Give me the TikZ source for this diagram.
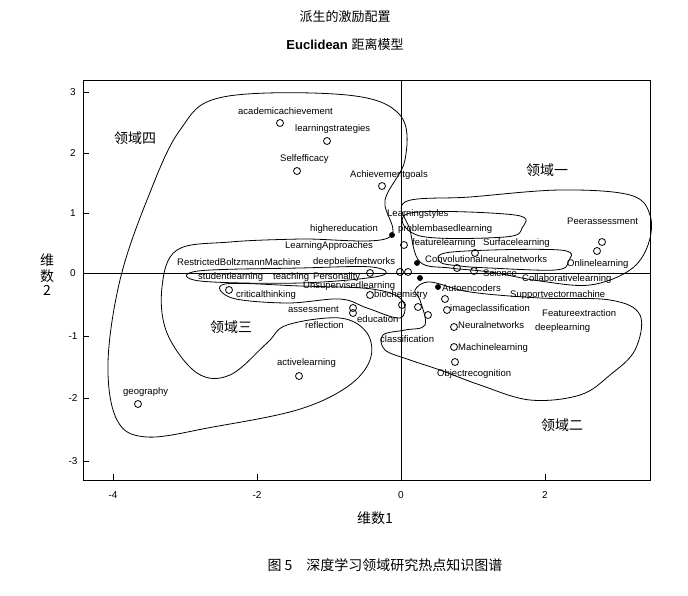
\documentclass[tikz,border=0pt]{standalone}
\usepackage{fontspec}
\setmainfont{Liberation Sans}
\newfontfamily\cjk{Noto Sans CJK SC}
\tikzset{
    pt/.style={
        circle,
        draw,
        thick, % 散点
        minimum size=7pt,
        inner sep=0
    },
    fpt/.style={
        pt,
        fill=black
    },
    lbl/.style={
        anchor=west,
        inner sep=0,
        font=\fontsize{9.5}{9.5}\selectfont
    },
    zone/.style={
        font=\cjk\fontsize{14}{14}\selectfont
    },
    contour/.style={
        thick,
        line join=round
    }
}
\begin{document}
\begin{tikzpicture}[x=1pt,y=-1pt]
    \useasboundingbox (0,0) rectangle (688,595);
    % 标题
    \node (t1) at (345,17) {\cjk\fontsize{13}{13}\selectfont 派生的激励配置};
    \node (t2) at (345,45) {\fontsize{13}{13}\selectfont\textbf{Euclidean} \cjk 距离模型};
    % 坐标框
    \draw (83,80) rectangle (650,480);
    \draw[thick] (401,80) -- (401,480);
    \draw[thick] (83,273) -- (650,273);
    \foreach \v/\y in {3/92,2/153,1/213,0/273,-1/336,-2/398,-3/461}{
        \draw (83,\y) -- (89,\y);
        \node[font=\fontsize{10}{10}\selectfont] at (73,\y) {\v};
    }
    \foreach \v/\x in {-4/113,-2/257,0/401,2/545}{
        \draw (\x,480) -- (\x,474);
        \node[font=\fontsize{10}{10}\selectfont] at (\x,495) {\v};
    }
    \node (ylab) at (47,275) {\cjk\fontsize{14}{16}\selectfont\shortstack{维\\数\\2}};
    \node (xlab) at (375,518) {\cjk\fontsize{14}{14}\selectfont 维数1};
    \node (cap) at (385,565) {\cjk\fontsize{14}{14}\selectfont 图 5\quad 深度学习领域研究热点知识图谱};
    % 领域标签
    \node[zone] (z4) at (135,138) {领域四};
    \node[zone] (z1) at (547,170) {领域一};
    \node[zone] (z3) at (231,327) {领域三};
    \node[zone] (z2) at (562,425) {领域二};
    % 散点
    \node[pt] (p1) at (280,123) {};
    \node[pt] (p2) at (327,141) {};
    \node[pt] (p3) at (297,171) {};
    \node[pt] (p4) at (382,186) {};
    \node[fpt,minimum size=5pt] (p5) at (392,235) {};
    \node[pt] (p6) at (370,273) {};
    \node[pt] (p7) at (229,290) {};
    \node[pt] (p8) at (370,295) {};
    \node[pt] (p9) at (353,308) {};
    \node[pt] (p10) at (353,313) {};
    \node[pt] (p11) at (299,376) {};
    \node[pt] (p12) at (138,404) {};
    \node[pt] (p13) at (404,245) {};
    \node[fpt,minimum size=5pt] (p14) at (417,263) {};
    \node[pt] (p15) at (400,272) {};
    \node[pt] (p16) at (408,272) {};
    \node[fpt,minimum size=5pt] (p17) at (420,278) {};
    \node[fpt,minimum size=5pt] (p18) at (438,287) {};
    \node[pt] (p19) at (445,299) {};
    \node[pt] (p20) at (402,305) {};
    \node[pt] (p21) at (418,307) {};
    \node[pt] (p22) at (428,315) {};
    \node[pt] (p23) at (447,310) {};
    \node[pt] (p24) at (454,327) {};
    \node[pt] (p25) at (454,347) {};
    \node[pt] (p26) at (455,362) {};
    \node[pt] (p27) at (457,268) {};
    \node[pt] (p28) at (475,253) {};
    \node[pt] (p29) at (474,271) {};
    \node[pt] (p30) at (602,242) {};
    \node[pt] (p31) at (597,251) {};
    % 标签
    \node[lbl] (l1) at (238,111) {academicachievement};
    \node[lbl] (l2) at (295,129) {learningstrategies};
    \node[lbl] (l3) at (280,159) {Selfefficacy};
    \node[lbl] (l4) at (350,175) {Achievementgoals};
    \node[lbl] (l5) at (310,229) {highereducation};
    \node[lbl] (l6) at (285,246) {LearningApproaches};
    \node[lbl] (l7) at (177,262) {RestrictedBoltzmannMachine};
    \node[lbl] (l8) at (313,262) {deepbeliefnetworks};
    \node[lbl] (l9) at (198,277) {studentlearning};
    \node[lbl] (l10) at (273,277) {teaching};
    \node[lbl] (l11) at (313,277) {Personality};
    \node[lbl] (l12) at (236,295) {criticalthinking};
    \node[lbl] (l13) at (303,286) {Unsupervisedlearning};
    \node[lbl] (l14) at (374,295) {biochemistry};
    \node[lbl] (l15) at (288,309) {assessment};
    \node[lbl] (l16) at (305,325) {reflection};
    \node[lbl] (l17) at (357,319) {education};
    \node[lbl] (l18) at (380,339) {classification};
    \node[lbl] (l19) at (277,363) {activelearning};
    \node[lbl] (l20) at (123,392) {geography};
    \node[lbl] (l21) at (387,214) {Learningstyles};
    \node[lbl] (l22) at (398,229) {problembasedlearning};
    \node[lbl] (l23) at (412,243) {featurelearning};
    \node[lbl] (l24) at (483,243) {Surfacelearning};
    \node[lbl] (l25) at (425,259) {Convolutionalneuralnetworks};
    \node[lbl] (l26) at (567,221) {Peerassessment};
    \node[lbl] (l27) at (567,264) {Onlinelearning};
    \node[lbl] (l28) at (483,273) {Science};
    \node[lbl] (l29) at (522,279) {Collaborativelearning};
    \node[lbl] (l30) at (442,288) {Autoencoders};
    \node[lbl] (l31) at (510,295) {Supportvectormachine};
    \node[lbl] (l32) at (450,309) {imageclassification};
    \node[lbl] (l33) at (542,313) {Featureextraction};
    \node[lbl] (l34) at (458,325) {Neuralnetworks};
    \node[lbl] (l35) at (535,328) {deeplearning};
    \node[lbl] (l36) at (458,348) {Machinelearning};
    \node[lbl] (l37) at (437,374) {Objectrecognition};
    % 领域轮廓
    \draw[contour] plot[smooth cycle,tension=0.6] coordinates {
        (347,95) (223,97) (180,130) (147,200) (120,280) (108,363) (117,420)
        (147,437) (213,427) (297,410) (347,387) (370,360) (367,333) (340,318)
        (287,325) (267,343) (230,375) (197,373) (167,333) (162,287) (177,250)
        (230,242) (300,239) (388,238) (385,200) (405,160) (400,115)};
    \draw[contour] plot[smooth cycle,tension=0.6] coordinates {
        (405,202) (470,197) (560,190) (630,195) (650,215) (648,245) (630,270)
        (590,285) (540,281) (490,272) (450,268) (420,262) (410,230)};
    \draw[contour] plot[smooth cycle,tension=0.6] coordinates {
        (410,213) (515,215) (522,228) (505,237) (420,236)};
    \draw[contour] plot[smooth cycle,tension=0.6] coordinates {
        (440,262) (452,252) (560,250) (568,262) (555,270) (490,268) (460,266)};
    \draw[contour] plot[smooth cycle,tension=0.6] coordinates {
        (430,282) (470,292) (540,298) (610,300) (640,315) (635,350) (610,375)
        (580,395) (530,400) (480,385) (440,370) (410,360) (385,350) (383,335)
        (405,330) (425,325) (420,300) (415,290)};
    \draw[contour] plot[smooth cycle,tension=0.6] coordinates {
        (198,271) (300,268) (372,267) (380,276) (300,283) (200,281)};
    \draw[contour] plot[smooth cycle,tension=0.6] coordinates {
        (225,284) (232,298) (287,303) (340,299) (367,308) (400,318) (402,300)
        (372,289) (300,286)};
\end{tikzpicture}
\end{document}
